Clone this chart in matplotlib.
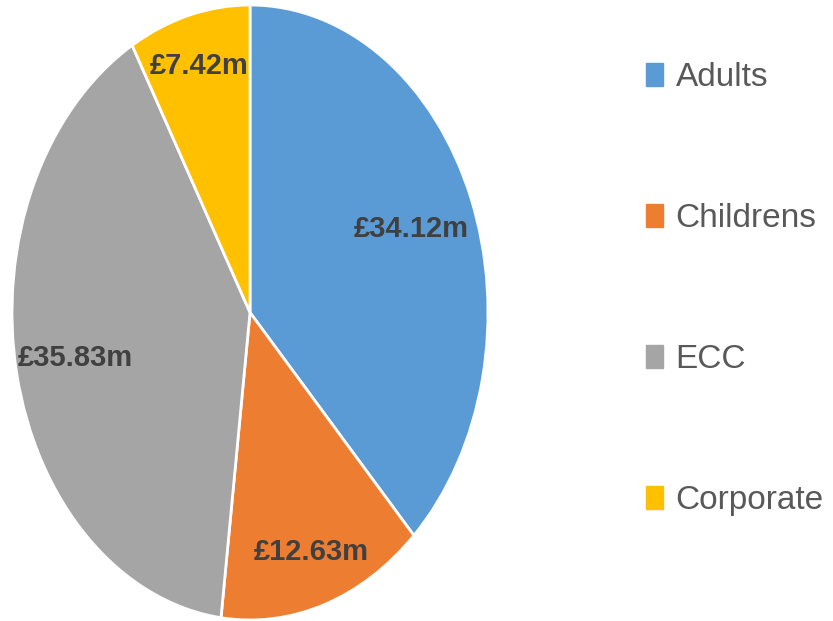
import numpy as np
import matplotlib
matplotlib.use("Agg")
import matplotlib.pyplot as plt
from matplotlib.patches import Patch

# spend by directorate, £m
categories = ["Adults", "Childrens", "ECC", "Corporate"]
values = [34.12, 12.63, 35.83, 7.42]
colors = ["#5B9BD5", "#ED7D31", "#A5A5A5", "#FFC000"]
label_radius = [0.73, 0.82, 0.75, 0.83]

plt.rcParams["font.family"] = ["Liberation Sans", "DejaVu Sans"]

fig = plt.figure(figsize=(8.33, 6.21), dpi=100)
ax = fig.add_axes([12 / 833, 1 / 621, 476 / 833, 615 / 621])

wedges, _ = ax.pie(values, colors=colors, startangle=90, counterclock=False,
                   radius=1.0, wedgeprops=dict(edgecolor="white", linewidth=2))
ax.set_aspect("auto")
ax.set_xlim(-1, 1)
ax.set_ylim(-1, 1)

# value labels inside each slice, along the slice's mid angle
for w, v, r in zip(wedges, values, label_radius):
    mid = np.deg2rad((w.theta1 + w.theta2) / 2)
    ax.text(r * np.cos(mid), r * np.sin(mid), f"£{v:.2f}m",
            ha="center", va="center", fontsize=21, fontweight="bold",
            color="#404040")

handles = [Patch(facecolor=c, edgecolor=c) for c in colors]
fig.legend(handles, categories, loc="center left",
           bbox_to_anchor=(646 / 833, 1 - 289 / 621), frameon=False,
           borderpad=0, borderaxespad=0,
           fontsize=24, labelcolor="#595959", labelspacing=3.3,
           handlelength=0.51, handleheight=0.69, handletextpad=0.38)

fig.savefig("out.png", dpi=100)
